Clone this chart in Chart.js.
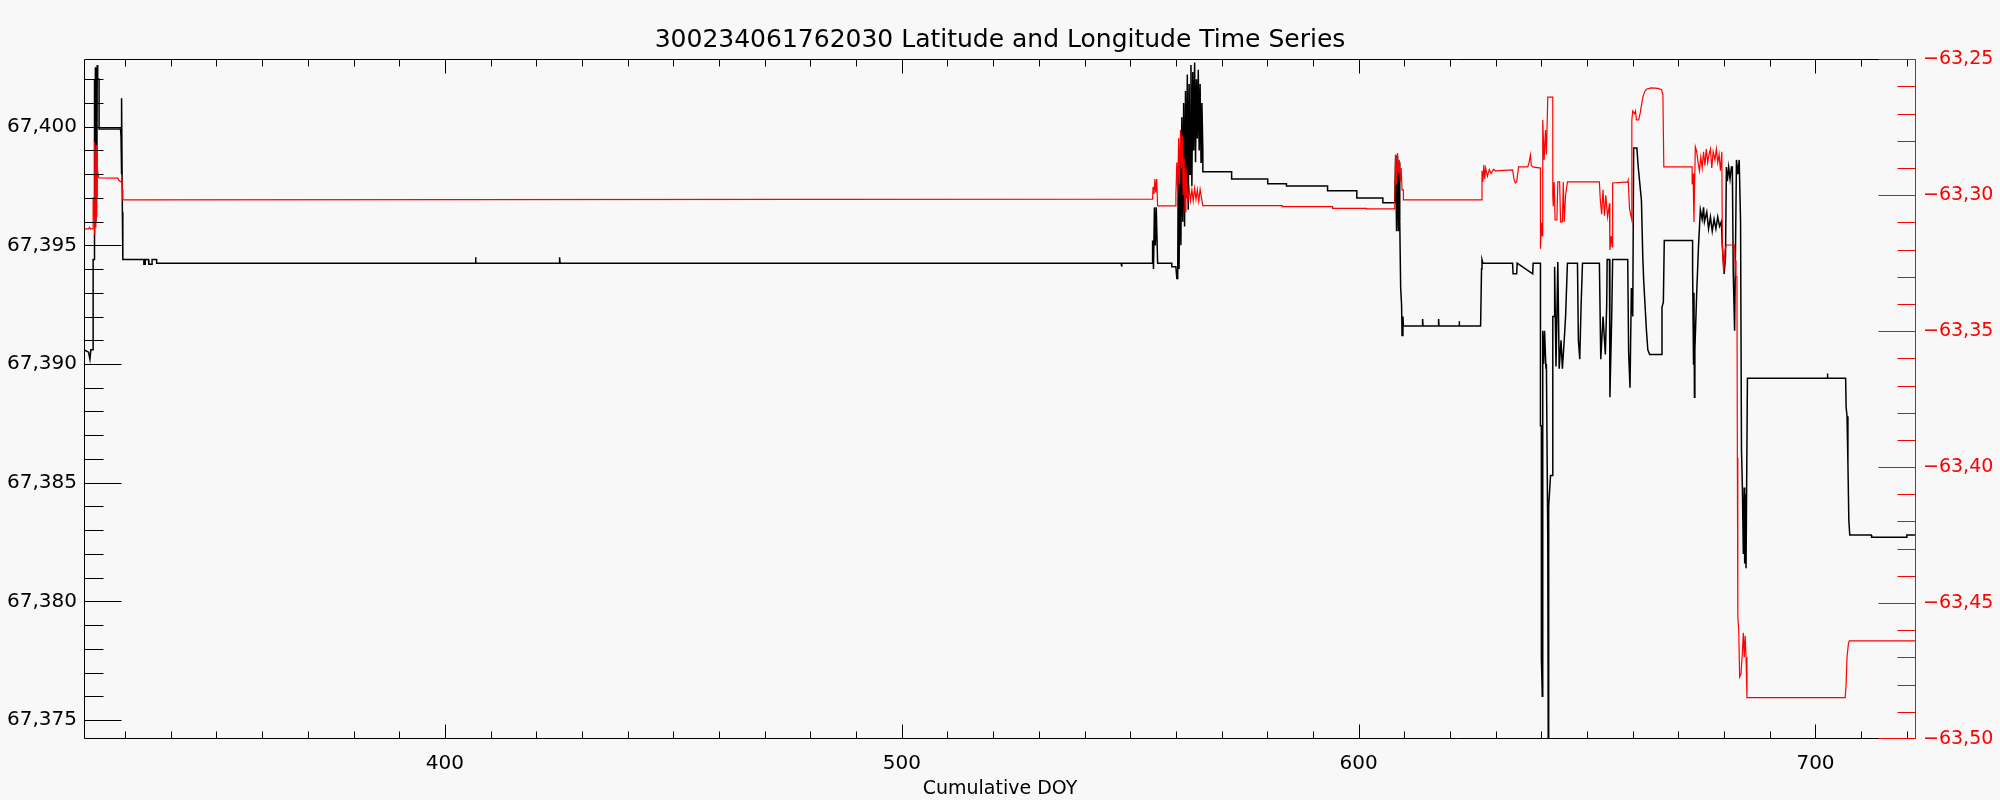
<!DOCTYPE html>
<html>
<head>
<meta charset="utf-8">
<script src="https://cdn.jsdelivr.net/npm/chart.js@4.4.0/dist/chart.umd.min.js"></script>
<style>
  html, body { margin: 0; padding: 0; background: #f8f8f8; }
  canvas { display: block; }
</style>
</head>
<body>
<canvas id="grafico" width="2000" height="800"></canvas>
<script>
const titulo = '300234061762030 Latitude and Longitude Time Series'
const xTitulo = 'Cumulative DOY'

const doyTicks = [400, 500, 600, 700]
const latTicks = [67.375, 67.380, 67.385, 67.390, 67.395, 67.400]
const lonTicks = [-63.50, -63.45, -63.40, -63.35, -63.30, -63.25]

// latitude (black, left axis)
const latDoy = [
  321.0, 322.0, 322.3, 322.5, 323.0, 323.0, 323.2, 323.2, 323.4, 323.5,
  323.6, 323.7, 323.8, 323.9, 324.0, 324.3, 324.3, 329.0, 329.1, 329.1,
  329.2, 329.3, 329.3, 329.4, 329.5, 334.1, 334.1, 334.4, 334.4, 335.1,
  335.2, 335.9, 335.9, 336.9, 336.9, 406.6, 406.7, 406.8, 425.0, 425.1,
  425.2, 548.0, 548.1, 548.2, 554.8, 554.9, 555.1, 555.3, 555.5, 555.7,
  556.0, 559.1, 559.1, 560.0, 560.2, 560.4, 560.5, 560.7, 560.9, 561.1,
  561.3, 561.5, 561.7, 561.9, 562.1, 562.3, 562.5, 562.7, 562.9, 563.1,
  563.3, 563.5, 563.7, 563.9, 564.1, 564.3, 564.5, 564.7, 564.9, 565.1,
  565.3, 565.5, 565.7, 565.9, 565.9, 572.2, 572.2, 580.1, 580.1, 584.2,
  584.2, 593.2, 593.2, 599.6, 599.6, 605.3, 605.3, 607.9, 608.1, 608.3,
  608.5, 608.7, 608.9, 609.0, 609.2, 609.4, 609.5, 609.7, 609.8, 614.0,
  614.0, 614.1, 617.5, 617.5, 617.6, 622.0, 622.0, 622.1, 626.7, 626.9,
  627.0, 627.2, 633.7, 633.8, 634.6, 634.7, 638.1, 638.2, 639.8, 639.8,
  640.0, 640.0, 640.2, 640.3, 640.5, 640.7, 641.0, 641.1, 641.4, 641.5,
  641.6, 641.6, 642.0, 642.4, 642.5, 642.8, 642.9, 643.2, 643.6, 643.9,
  644.3, 644.6, 645.0, 645.3, 645.7, 647.9, 648.1, 648.4, 648.7, 649.0,
  652.7, 653.0, 653.5, 654.0, 654.3, 654.4, 654.9, 655.0, 655.4, 655.6,
  658.9, 659.1, 659.4, 659.7, 660.0, 660.2, 660.9, 661.2, 661.9, 662.2,
  662.4, 663.0, 663.3, 663.7, 666.2, 666.4, 666.7, 666.9, 673.1, 673.1,
  673.3, 673.4, 673.5, 673.6, 674.0, 674.4, 674.8, 675.2, 675.5, 675.7,
  676.2, 676.6, 677.0, 677.4, 677.8, 678.2, 678.6, 679.0, 679.4, 679.6,
  680.0, 680.3, 680.5, 680.7, 681.0, 681.3, 681.6, 681.8, 682.0, 682.3,
  682.5, 682.7, 683.0, 683.3, 683.6, 683.8, 684.0, 684.2, 684.4, 684.5,
  684.7, 684.8, 685.0, 685.1, 702.6, 702.6, 702.7, 706.6, 706.7, 706.9,
  707.1, 707.3, 707.5, 712.2, 712.3, 719.9, 720.0, 721.9
]
const latValues = [
  67.3906, 67.3905, 67.3902, 67.3906, 67.3906, 67.3944, 67.3944, 67.4020, 67.3956, 67.4025,
  67.3960, 67.4024, 67.3970, 67.4026, 67.4020, 67.4020, 67.3999, 67.3999, 67.3996, 67.3985,
  67.3994, 67.3980, 67.4012, 67.3964, 67.3944, 67.3944, 67.3942, 67.3942, 67.3944, 67.3944,
  67.3942, 67.3942, 67.3944, 67.3944, 67.39425, 67.39425, 67.3945, 67.39425, 67.39425, 67.3945,
  67.39425, 67.39425, 67.3941, 67.39425, 67.39425, 67.3952, 67.3940, 67.3966, 67.3950, 67.3966,
  67.39425, 67.39425, 67.3941, 67.3941, 67.3936, 67.3936, 67.3980, 67.3940, 67.3990, 67.3950,
  67.4004, 67.3960, 67.4010, 67.3958, 67.4015, 67.3970, 67.4022, 67.3965, 67.4018, 67.3980,
  67.4026, 67.3975, 67.4023, 67.3990, 67.4027, 67.3985, 67.4020, 67.3995, 67.4024, 67.3990,
  67.4018, 67.3985, 67.4010, 67.3990, 67.3981, 67.3981, 67.3978, 67.3978, 67.3976, 67.3976,
  67.3975, 67.3975, 67.3973, 67.3973, 67.3970, 67.3970, 67.3968, 67.3968, 67.3988, 67.3956,
  67.3988, 67.3956, 67.3985, 67.3960, 67.3932, 67.3925, 67.3912, 67.3920, 67.3916, 67.3916,
  67.3919, 67.3916, 67.3916, 67.3919, 67.3916, 67.3916, 67.3918, 67.3916, 67.3916, 67.3940,
  67.3944, 67.39425, 67.39425, 67.3938, 67.3938, 67.39425, 67.3938, 67.39425, 67.39425, 67.3874,
  67.3874, 67.3776, 67.3760, 67.3914, 67.3900, 67.3914, 67.3898, 67.3900, 67.3827, 67.3742,
  67.3742, 67.3840, 67.3853, 67.3853, 67.3920, 67.3920, 67.3941, 67.3899, 67.3943, 67.3898,
  67.3910, 67.3898, 67.3910, 67.3920, 67.39425, 67.39425, 67.3910, 67.3902, 67.3925, 67.39425,
  67.39425, 67.3902, 67.3920, 67.3904, 67.3925, 67.3944, 67.3944, 67.3886, 67.3920, 67.3944,
  67.3944, 67.3905, 67.3890, 67.3932, 67.3920, 67.3991, 67.3991, 67.3983, 67.3969, 67.3945,
  67.3935, 67.3914, 67.3906, 67.3904, 67.3904, 67.3924, 67.3926, 67.3952, 67.3952, 67.3940,
  67.3900, 67.3930, 67.3886, 67.3906, 67.3930, 67.3950, 67.3965, 67.3961, 67.3966, 67.3960,
  67.3964, 67.3957, 67.3962, 67.3956, 67.3961, 67.3957, 67.3962, 67.3958, 67.3960, 67.3950,
  67.3938, 67.3945, 67.3983, 67.3977, 67.3983, 67.3978, 67.3983, 67.3983, 67.3938, 67.3914,
  67.3950, 67.3986, 67.3980, 67.3986, 67.3960, 67.3864, 67.3848, 67.3820, 67.3848, 67.3816,
  67.3845, 67.3814, 67.3814, 67.3894, 67.3894, 67.3896, 67.3894, 67.3894, 67.3882, 67.3878,
  67.3858, 67.3834, 67.3828, 67.3828, 67.3827, 67.3827, 67.3828, 67.3828
]

// longitude (red, right axis)
const lonDoy = [
  321.0, 322.0, 322.2, 322.4, 323.0, 323.0, 323.2, 323.3, 323.4, 323.5,
  323.6, 323.7, 323.8, 323.9, 324.1, 324.3, 328.4, 328.6, 329.1, 329.3,
  329.4, 329.5, 554.9, 555.0, 555.2, 555.4,
  555.6, 555.8, 556.0, 560.0, 560.0, 560.2, 560.4, 560.6, 560.8, 561.0,
  561.2, 561.4, 561.6, 561.8, 562.0, 562.2, 562.4, 562.6, 562.9, 563.2,
  563.5, 563.8, 564.1, 564.4, 564.7, 565.0, 565.3, 565.6, 565.9, 583.3,
  583.3, 594.3, 594.3, 601.7, 601.7, 607.9, 608.1, 608.3, 608.5, 608.7,
  608.9, 609.1, 609.3, 609.5, 609.8, 609.8, 626.9, 627.0, 627.2, 627.4,
  627.6, 627.8, 628.2, 628.6, 629.0, 629.5, 630.0, 633.7, 634.0, 634.3,
  634.6, 635.0, 637.0, 637.3, 637.6, 637.8, 638.1, 639.8, 639.8, 640.0,
  640.2, 640.3, 640.6, 640.9, 641.1, 641.4, 642.5, 642.5, 642.6, 642.8,
  643.0, 643.4, 643.6, 644.0, 644.2, 644.6, 644.8, 645.0, 645.3, 645.7,
  652.7, 652.9, 653.2, 653.5, 653.8, 654.1, 654.5, 654.9, 655.0, 655.3,
  655.5, 655.6, 658.9, 659.0, 659.3, 659.8, 659.8, 660.0, 660.4, 660.6,
  660.8, 661.3, 661.6, 662.2, 662.6, 663.0, 664.0, 665.5, 666.3, 666.6,
  666.8, 673.0, 673.0, 673.2, 673.4, 673.5, 673.7, 674.0, 674.3, 674.6,
  674.9, 675.2, 675.5, 675.8, 676.1, 676.4, 676.7, 677.0, 677.3, 677.6,
  678.0, 678.3, 678.6, 678.9, 679.2, 679.5, 679.6, 679.9, 680.2, 680.5,
  682.3, 682.4, 682.6, 682.8, 682.9, 683.0, 683.2, 683.4, 683.7, 684.0,
  684.2, 684.4, 684.6, 684.8, 685.0, 706.5, 706.7, 706.9, 707.2, 707.4,
  721.9
]
const lonValues = [
  -63.3124, -63.3124, -63.3118, -63.3124, -63.3124, -63.3010, -63.3010, -63.2804, -63.3146, -63.2830,
  -63.3120, -63.2815, -63.3080, -63.2900, -63.2925, -63.2936, -63.2937, -63.2945, -63.2951, -63.2932,
  -63.2980, -63.3017, -63.3014, -63.2970, -63.2995, -63.2940,
  -63.2990, -63.2940, -63.3039, -63.3039, -63.3000, -63.2880, -63.2990, -63.2790, -63.2960, -63.2760,
  -63.2900, -63.2780, -63.3000, -63.2860, -63.3060, -63.2900, -63.2980, -63.3025, -63.2975, -63.3020,
  -63.2980, -63.3020, -63.2975, -63.3015, -63.2980, -63.3022, -63.2978, -63.3010, -63.3038, -63.3038,
  -63.3042, -63.3042, -63.3048, -63.3048, -63.3050, -63.3050, -63.2850, -63.2960, -63.2845, -63.2920,
  -63.2870, -63.2950, -63.2900, -63.2980, -63.2980, -63.3017, -63.3017, -63.2910, -63.2950, -63.2889,
  -63.2940, -63.2900, -63.2930, -63.2905, -63.2920, -63.2905, -63.2910, -63.2907, -63.2940, -63.2955,
  -63.2950, -63.2896, -63.2896, -63.2880, -63.2852, -63.2890, -63.2896, -63.2900, -63.3197, -63.3100,
  -63.3150, -63.2723, -63.2870, -63.2760, -63.2850, -63.2639, -63.2639, -63.3000, -63.3040, -63.2951,
  -63.3091, -63.3091, -63.2951, -63.2951, -63.3098, -63.3098, -63.2951, -63.3098, -63.3000, -63.2951,
  -63.2951, -63.3017, -63.3070, -63.2980, -63.3075, -63.3000, -63.3080, -63.3030, -63.3201, -63.3150,
  -63.3190, -63.2955, -63.2951, -63.2945, -63.3050, -63.3091, -63.2723, -63.2690, -63.2700, -63.2690,
  -63.2723, -63.2723, -63.2700, -63.2640, -63.2620, -63.2610, -63.2605, -63.2607, -63.2612, -63.2630,
  -63.2896, -63.2896, -63.2960, -63.2920, -63.3098, -63.3000, -63.2822, -63.2840, -63.2880, -63.2910,
  -63.2860, -63.2900, -63.2840, -63.2890, -63.2830, -63.2880, -63.2850, -63.2830, -63.2900, -63.2840,
  -63.2870, -63.2830, -63.2880, -63.2850, -63.2910, -63.2840, -63.3175, -63.3286, -63.3200, -63.3183,
  -63.3183, -63.3240, -63.3300, -63.3300, -63.3966, -63.4550, -63.4600, -63.4771, -63.4760, -63.4680,
  -63.4609, -63.4700, -63.4620, -63.4700, -63.4848, -63.4848, -63.4800, -63.4700, -63.4650, -63.4639,
  -63.4639
]

const preto = '#000000'
const vermelho = '#ff0000'

Chart.defaults.font.family = "'DejaVu Sans', sans-serif"

const latPontos = latDoy.map((x, i) => ({ x: x, y: latValues[i] }))
const lonPontos = lonDoy.map((x, i) => ({ x: x, y: lonValues[i] }))

// frame + major/minor tick marks like the IDL plot
function marcas(scale, step, lo, hi, cb) {
    const n0 = Math.ceil(scale.min / step - 1e-6)
    const n1 = Math.floor(scale.max / step + 1e-6)
    for (let n = n0; n <= n1; n++) {
        const p = Math.round(scale.getPixelForValue(n * step)) + 0.5
        cb(Math.min(Math.max(p, lo), hi), n)
    }
}

const moldura = {
    id: 'moldura',
    afterDatasetsDraw(chart) {
        const { ctx, chartArea, scales } = chart
        const L = Math.round(chartArea.left) + 0.5
        const R = Math.round(chartArea.right) - 0.5
        const T = Math.round(chartArea.top) + 0.5
        const B = Math.round(chartArea.bottom) - 0.5
        ctx.save()
        ctx.lineWidth = 1
        ctx.strokeStyle = preto
        ctx.beginPath()
        ctx.moveTo(R, T); ctx.lineTo(L, T); ctx.lineTo(L, B); ctx.lineTo(R, B)
        marcas(scales.x, 10, L, R, (px, n) => {
            const len = n % 10 === 0 ? 14 : 7
            ctx.moveTo(px, B); ctx.lineTo(px, B - len)
            ctx.moveTo(px, T); ctx.lineTo(px, T + len)
        })
        marcas(scales.y, 0.001, T, B, (py, n) => {
            const len = n % 5 === 0 ? 37 : 19
            ctx.moveTo(L, py); ctx.lineTo(L + len, py)
        })
        ctx.stroke()
        ctx.strokeStyle = vermelho
        ctx.beginPath()
        ctx.moveTo(R, T); ctx.lineTo(R, B)
        marcas(scales.y2, 0.01, T, B, (py, n) => {
            const len = n % 5 === 0 ? 37 : 18
            ctx.moveTo(R, py); ctx.lineTo(R - len, py)
        })
        ctx.stroke()
        ctx.restore()
    }
}

const semGrade = { display: false, drawTicks: false }

const config = {
    type: 'scatter',
    data: {
        datasets: [
            {
                label: 'Longitude',
                data: lonPontos,
                yAxisID: 'y2',
                showLine: true,
                borderColor: vermelho,
                backgroundColor: vermelho,
                borderWidth: 1.2,
                pointRadius: 0,
                tension: 0,
                order: 0
            },
            {
                label: 'Latitude',
                data: latPontos,
                yAxisID: 'y',
                showLine: true,
                borderColor: preto,
                backgroundColor: preto,
                borderWidth: 1.5,
                pointRadius: 0,
                tension: 0,
                order: 1
            }
        ]
    },
    options: {
        responsive: false,
        animation: false,
        devicePixelRatio: 1,
        layout: { padding: 0 },
        plugins: {
            legend: { display: false },
            tooltip: { enabled: false },
            title: {
                display: true,
                text: titulo,
                color: preto,
                font: { size: 25, weight: 'normal' },
                padding: { top: 25.3, bottom: 4 }
            }
        },
        scales: {
            x: {
                type: 'linear',
                position: 'bottom',
                min: 321,
                max: 722,
                grid: semGrade,
                border: { display: false },
                afterBuildTicks: s => { s.ticks = doyTicks.map(v => ({ value: v })) },
                afterFit: s => { s.height = 61 },
                ticks: { color: preto, font: { size: 20 }, padding: 13, maxRotation: 0, autoSkip: false },
                title: { display: true, text: xTitulo, color: preto, font: { size: 19 }, padding: { top: 0, bottom: 0 } }
            },
            y: {
                type: 'linear',
                position: 'left',
                min: 67.3742,
                max: 67.40284,
                grid: semGrade,
                border: { display: false },
                afterBuildTicks: s => { s.ticks = latTicks.map(v => ({ value: v })) },
                afterFit: s => { s.width = 84 },
                ticks: {
                    color: preto,
                    font: { size: 20 },
                    padding: 7,
                    autoSkip: false,
                    callback: v => v.toFixed(3).replace('.', ',')
                }
            },
            y2: {
                type: 'linear',
                position: 'right',
                min: -63.50,
                max: -63.25,
                grid: semGrade,
                border: { display: false },
                afterBuildTicks: s => { s.ticks = lonTicks.map(v => ({ value: v })) },
                afterFit: s => { s.width = 84 },
                ticks: {
                    color: vermelho,
                    font: { size: 19 },
                    padding: 7,
                    autoSkip: false,
                    callback: v => '\u2212' + Math.abs(v).toFixed(2).replace('.', ',')
                }
            }
        }
    },
    plugins: [moldura]
}

const grafico = new Chart(document.querySelector('#grafico'), config)
</script>
</body>
</html>
